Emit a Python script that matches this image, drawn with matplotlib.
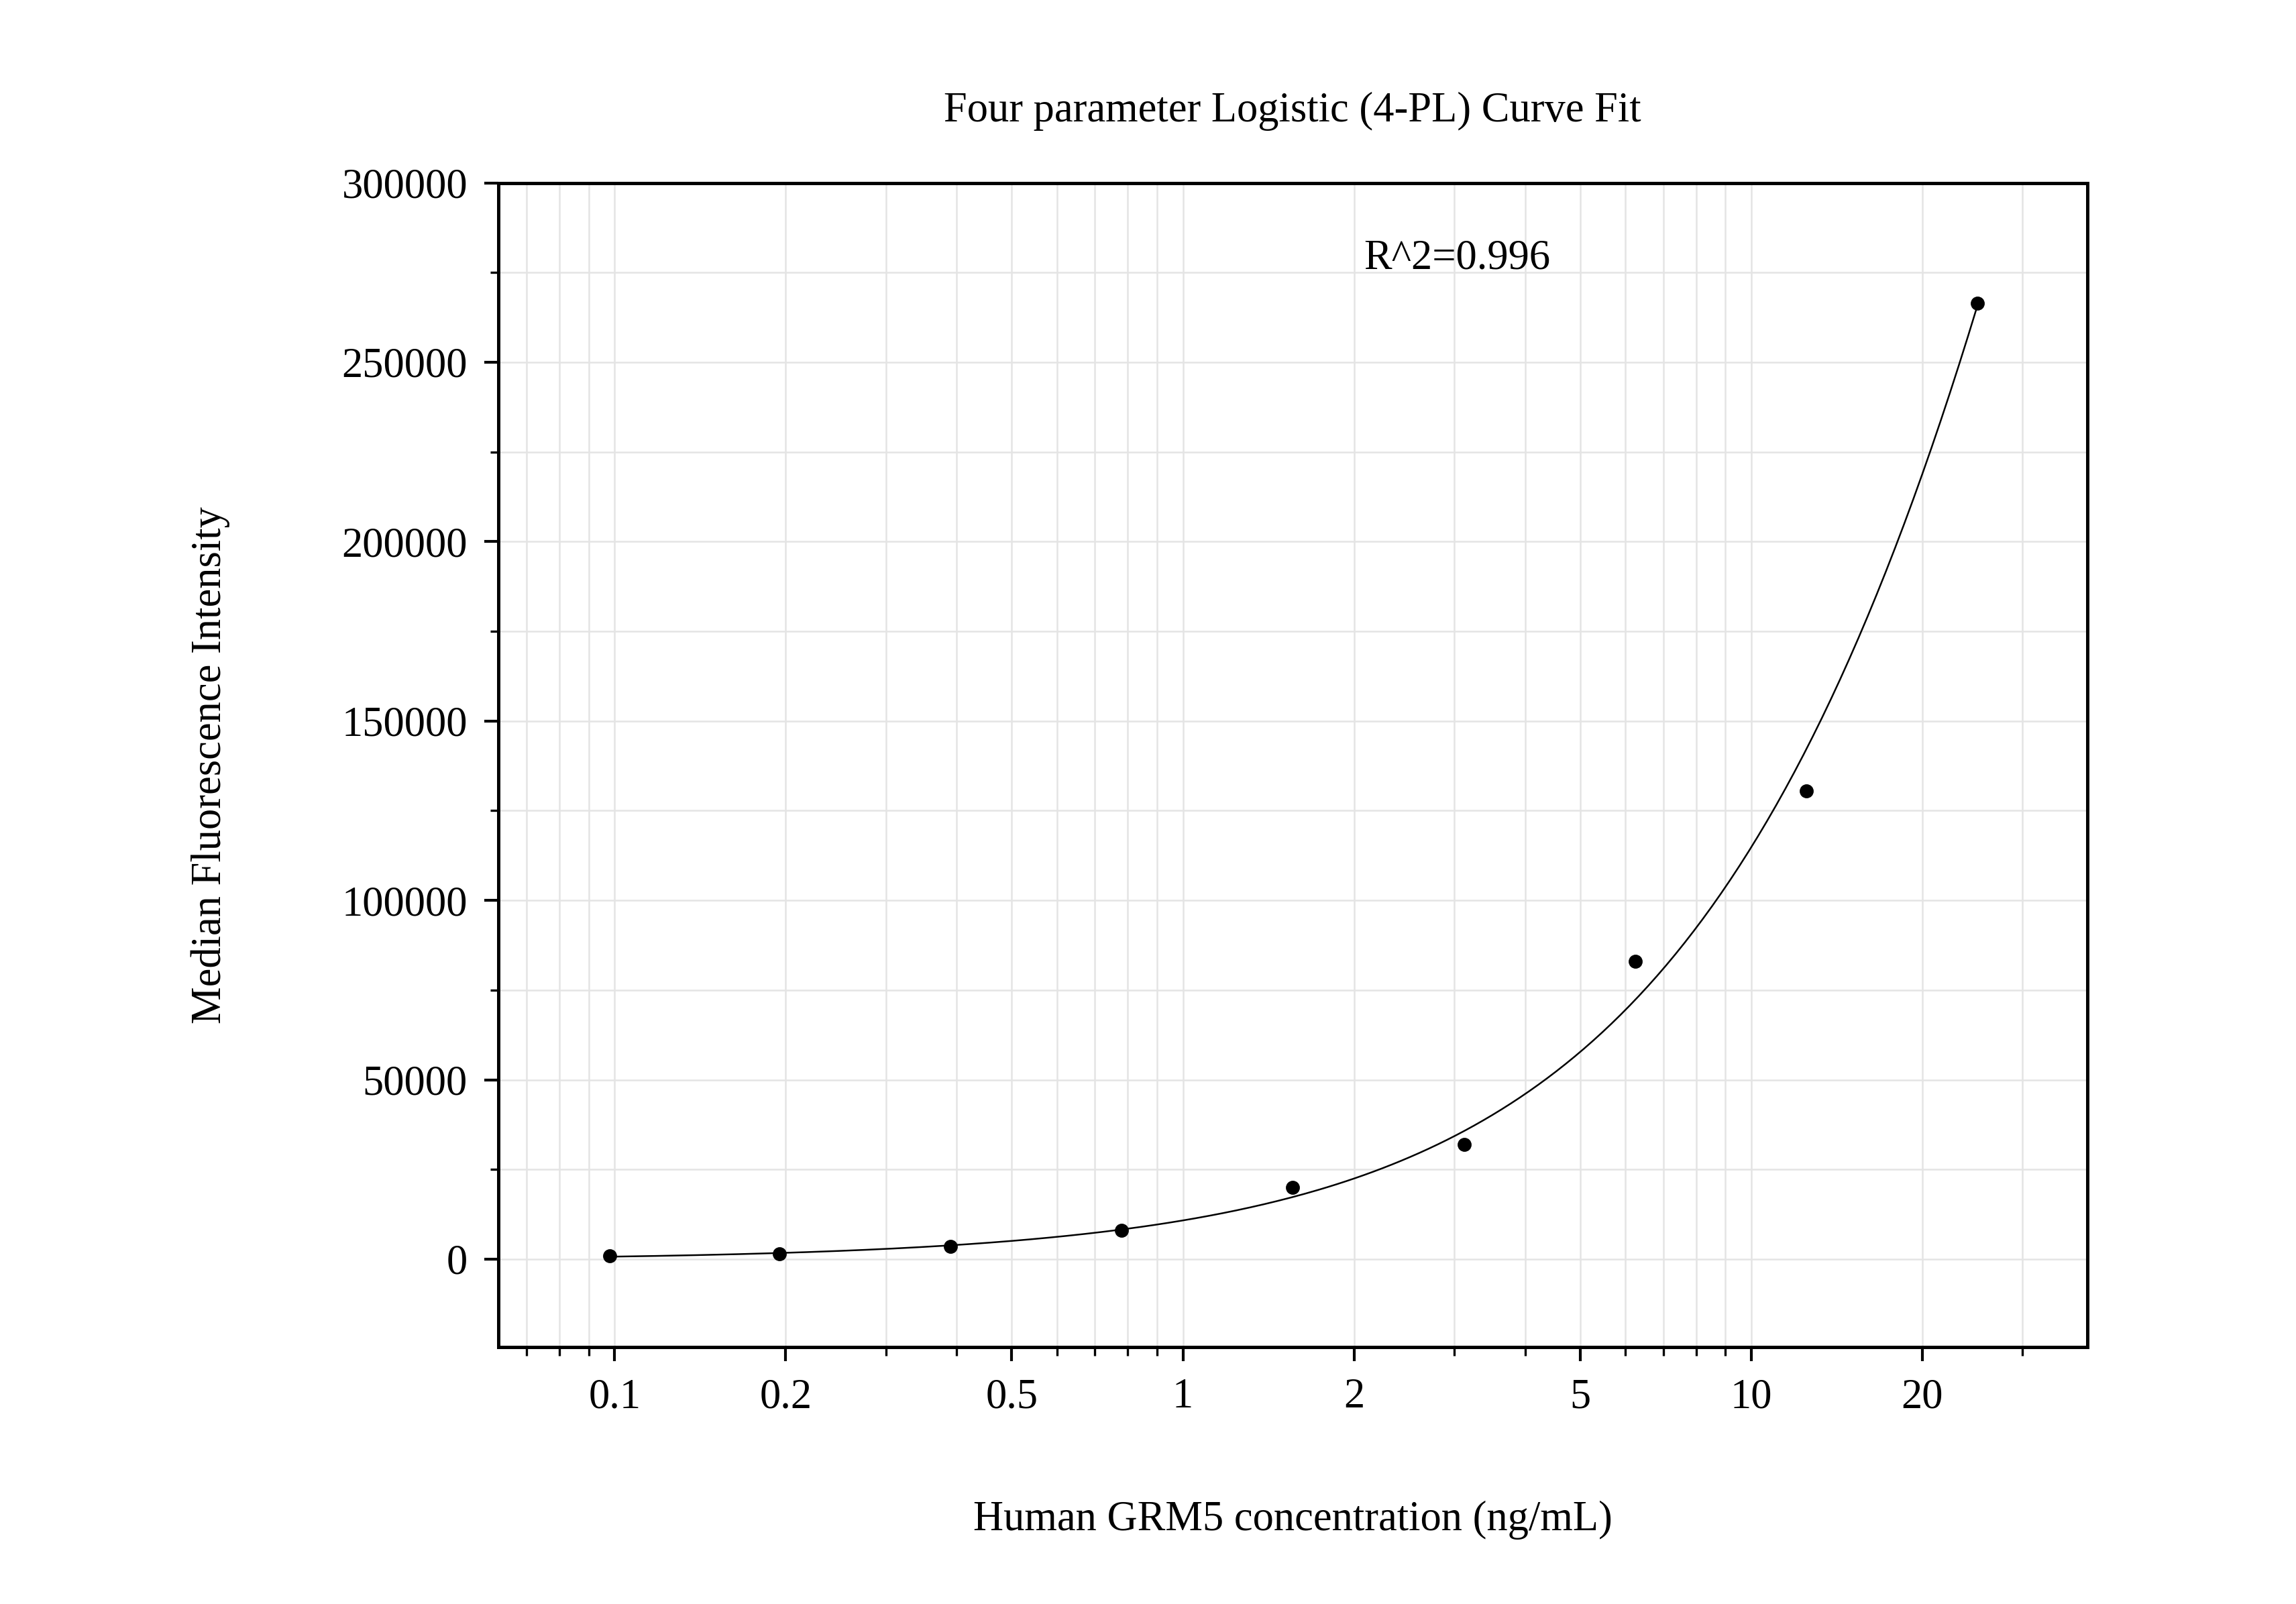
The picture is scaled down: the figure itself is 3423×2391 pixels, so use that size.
import numpy as np
import matplotlib
matplotlib.use("Agg")
import matplotlib.pyplot as plt
from matplotlib.ticker import MultipleLocator, LogLocator, FixedLocator, NullFormatter

# standards (ng/mL) and measured MFI
conc = [0.098, 0.195, 0.39, 0.78, 1.56, 3.125, 6.25, 12.5, 25.0]
mfi = [1000, 1500, 3500, 8000, 20000, 32000, 83000, 130500, 266500]

# 4-PL fit parameters (a, b, c, d)
fit_a, fit_b, fit_c, fit_d = -300.0, 1.05, 100.0, 1.406e6

def four_pl(x, a, b, c, d):
    return d + (a - d) / (1 + (x / c) ** b)

plt.rcParams["font.family"] = "Liberation Serif"

fig = plt.figure(figsize=(3423 / 300, 2391 / 300), dpi=300)
ax = fig.add_axes([0.217, 0.160, 0.692, 0.726])

xs = np.logspace(np.log10(conc[0]), np.log10(conc[-1]), 300)
ax.plot(xs, four_pl(xs, fit_a, fit_b, fit_c, fit_d), color="black", lw=0.6)
ax.scatter(conc, mfi, color="black", s=16, zorder=3)

ax.set_xscale("log")
ax.set_xlim(0.0624, 39)
ax.set_ylim(-24600, 300000)

ax.xaxis.set_major_locator(FixedLocator([0.1, 0.2, 0.5, 1, 2, 5, 10, 20]))
ax.set_xticklabels(["0.1", "0.2", "0.5", "1", "2", "5", "10", "20"])
ax.xaxis.set_minor_locator(LogLocator(base=10, subs=np.arange(1, 10)))
ax.xaxis.set_minor_formatter(NullFormatter())
ax.yaxis.set_major_locator(MultipleLocator(50000))
ax.yaxis.set_minor_locator(MultipleLocator(25000))

ax.grid(True, which="both", color="#e4e4e4", lw=0.6)
ax.set_axisbelow(True)
for s in ax.spines.values():
    s.set_linewidth(1.2)
ax.tick_params(which="major", direction="out", length=5, width=1, labelsize=15, pad=6)
ax.tick_params(which="minor", direction="out", length=3, width=0.8)

ax.set_xlabel("Human GRM5 concentration (ng/mL)", fontsize=15, labelpad=30)
ax.set_ylabel("Median Fluorescence Intensity", fontsize=15, labelpad=40)
ax.set_title("Four parameter Logistic (4-PL) Curve Fit", fontsize=15, pad=22)
ax.text(0.545, 0.935, "R^2=0.996", transform=ax.transAxes, fontsize=15, va="center")

fig.savefig("out.png", dpi=300)
